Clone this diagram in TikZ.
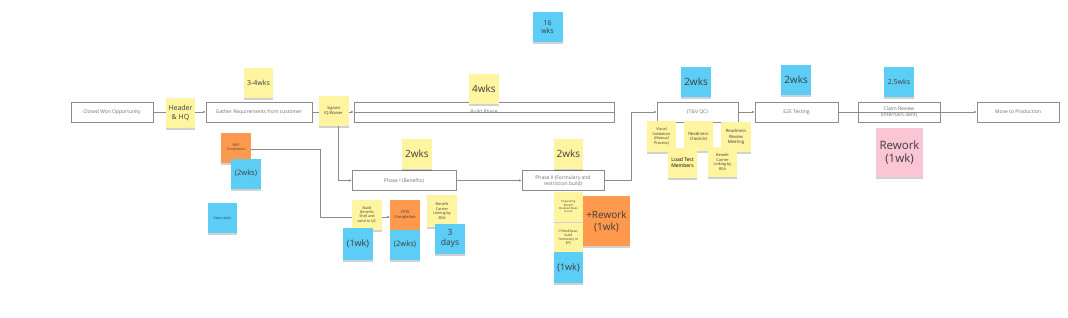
\documentclass[tikz,border=0pt]{standalone}
\usepackage{fontspec}
\setmainfont{Open Sans}
\usetikzlibrary{shadows,arrows.meta}
\definecolor{ylw}{RGB}{255,245,160}
\definecolor{cyn}{RGB}{92,206,245}
\definecolor{org}{RGB}{255,153,77}
\definecolor{pnk}{RGB}{250,198,214}
\definecolor{boxline}{RGB}{140,140,140}
\definecolor{boxtxt}{RGB}{110,110,110}
\definecolor{stxt}{RGB}{60,60,60}
\newcommand{\fs}[1]{\fontsize{#1pt}{\dimexpr #1pt*6/5\relax}\selectfont}
\tikzset{
  flowbox/.style={draw=boxline, line width=0.8pt, fill=white, text=boxtxt,
    minimum height=20pt, inner sep=0pt, align=center, font=\fs{5}},
  sticky/.style={draw=none, inner sep=0pt, align=center, text=stxt,
    minimum width=30pt, minimum height=30pt,
    drop shadow={shadow xshift=0pt, shadow yshift=-2pt, opacity=0.18, fill=black}},
  ys/.style={sticky, fill=ylw},
  cs/.style={sticky, fill=cyn},
  os/.style={sticky, fill=org},
  ps/.style={sticky, fill=pnk},
  conn/.style={draw=boxline, line width=0.7pt},
  arr/.style={conn, -{Latex[length=2.5pt,width=2.5pt]}},
}
\begin{document}
\begin{tikzpicture}[x=1pt,y=-1pt]
\useasboundingbox[fill=white] (0,0) rectangle (1068,317);

% main row boxes
\node[flowbox, minimum width=82pt] (cwo) at (112,112) {Closed Won Opportunity};
\node[flowbox, minimum width=106pt] (gather) at (259,112) {Gather Requirements from customer};
\node[flowbox, minimum width=260pt] (build) at (484,112) {Build Phase};
\node[flowbox, minimum width=81pt] (tvqc) at (697.5,112) {(T\&V QC)};
\node[flowbox, minimum width=83pt] (e2e) at (796.5,112) {E2E Testing};
\node[flowbox, minimum width=82pt] (claim) at (899,112) {Claim Review\\(Internal/Client)};
\node[flowbox, minimum width=82pt] (mtp) at (1018,112) {Move to Production};
\node[flowbox, minimum width=104pt] (phase1) at (404,180.5) {Phase I (Benefits)};
\node[flowbox, minimum width=82pt] (phase2) at (563,180.5) {Phase II (Formulary and\\restriction build)};

% connectors
\draw[arr] (cwo.east) -- (gather.west);
\draw[arr] (gather.east) -- (build.west);
\draw[conn] (build.west) -- (build.east);
\draw[arr] (tvqc.east) -- (e2e.west);
\draw[arr] (e2e.east) -- (mtp.west);
\draw[arr] (phase1.east) -- (phase2.west);
\draw[arr] (phase2.east) -- ++(27,0) |- (tvqc.west);

% stickies on the main row
\node[ys, minimum width=29pt, font=\fs{7}] (hdr) at (180.5,113) {Header\\\& HQ};
\node[ys, font=\fs{4}] (signed) at (333.5,110.5) {Signed\\IQ/Waiver};
\draw[arr] ([xshift=4.5pt]signed.south) |- (phase1.west);

\node[ys, minimum width=29pt, font=\fs{7}] (w34) at (258.5,82.5) {3-4wks};
\node[ys, font=\fs{10}] (w4) at (484,89) {4wks};
\node[cs, font=\fs{7}] (w16) at (547.5,27) {16\\wks};

% NRF branch
\node[os, font=\fs{3.5}] (nrf) at (236,147.5) {NRF\\Completion};
\node[cs, font=\fs{7.5}] (w2c) at (246,173.5) {(2wks)};
\node[cs, minimum width=29pt, font=\fs{3.5}] (w24) at (222.5,218) {2wks-4wks};

% Phase I
\node[ys, font=\fs{10}] (p1w) at (417,154) {2wks};
\node[os, font=\fs{4}] (cpw) at (405,215) {CPW\\Completion};
\draw[arr] ([yshift=-1.5pt]nrf.east) -- ++(69,0) |- ([yshift=-2pt]cpw.west);
\node[ys, font=\fs{3.6}] (bbs) at (367,214.5) {Build\\Benefits\\Shell and\\send to QC};
\node[ys, minimum height=32pt, font=\fs{3.8}] (bcl1) at (442,211) {Benefit\\Carrier\\Linking by\\BSA};
\node[cs, minimum height=32pt, font=\fs{9}] (w1a) at (358,244) {(1wk)};
\node[cs, font=\fs{7.5}] (w2d) at (405,244.5) {(2wks)};
\node[cs, font=\fs{8.5}] (d3) at (450,238.5) {3\\days};

% Phase II
\node[ys, minimum width=29pt, font=\fs{10}] (p2w) at (568.5,154) {2wks};
\node[ys, minimum width=29pt, font=\fs{2.8}] (pop) at (568.5,207) {Populating\\Benefit\\Detailed Rules\\(Cure)};
\node[ys, minimum width=29pt, minimum height=29pt, font=\fs{3.4}] (medi) at (568.5,237.5) {If MediSpan,\\build\\formulary in\\EFS};
\node[cs, minimum width=29pt, minimum height=31pt, font=\fs{9}] (w1b) at (568.5,267.5) {\{1wk\}};
\node[os, minimum width=47pt, minimum height=50pt, font=\fs{10}] (rw2) at (606.5,221) {+Rework\\(1wk)};

% T&V QC
\node[cs, font=\fs{10}] (tvw) at (696,81.7) {2wks};
\node[ys, minimum width=29pt, minimum height=31pt, font=\fs{3.8}] (vis) at (661.5,136.5) {Visual\\Validation\\(Manual\\Process)};
\node[ys, minimum width=29pt, font=\fs{4.3}] (rck) at (698.5,136) {Readiness\\Checklist};
\node[ys, font=\fs{4.3}] (rrm) at (736,137) {Readiness\\Review\\Meeting};
\node[ys, minimum width=29pt, font=\fs{5}, text=black] (ltm) at (682.5,163) {Load Test\\Members};
\node[ys, minimum width=29pt, font=\fs{3.8}] (bcl2) at (722.5,162) {Benefit\\Carrier\\Linking by\\BSA};

% E2E and Claim Review
\node[cs, font=\fs{10}] (e2ew) at (796,80) {2wks};
\node[cs, font=\fs{7}] (w25) at (899,82) {2.5wks};
\node[ps, minimum width=47pt, minimum height=49pt, font=\fs{11.5}] (rw1) at (899.5,152.5) {Rework\\(1wk)};
\end{tikzpicture}
\end{document}
